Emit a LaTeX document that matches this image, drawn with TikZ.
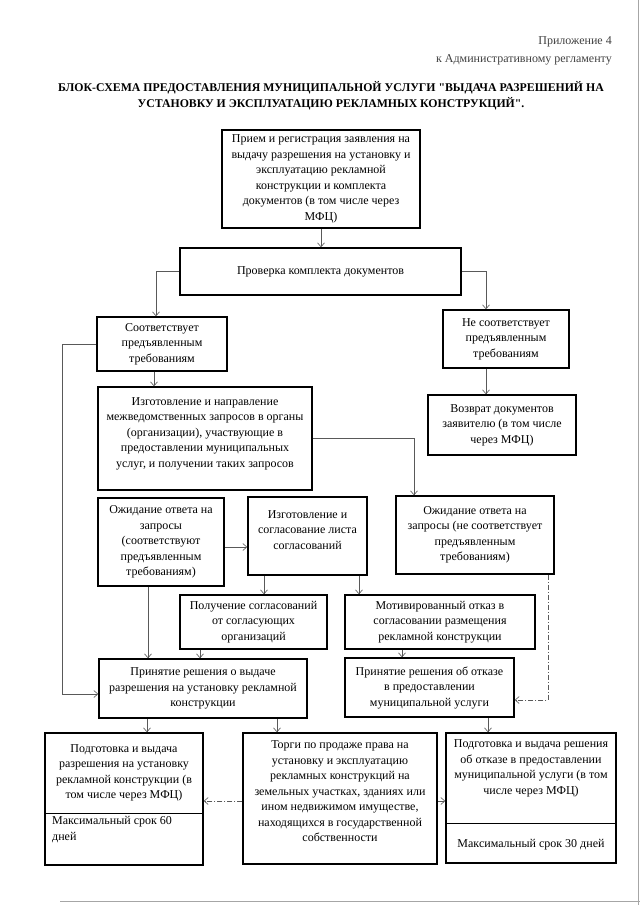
\documentclass[tikz,border=0pt]{standalone}
\usepackage{fontspec}
\setmainfont{Liberation Serif}
\newfontfamily\ttlfont{Liberation Serif}
\usetikzlibrary{arrows.meta}
\tikzset{
blk/.style={draw=black, line width=1.5pt, align=center, inner sep=2pt,
    font=\fontsize{12}{15.5}\selectfont},
txt/.style={inner sep=0pt, font=\fontsize{12}{15.5}\selectfont},
cn/.style={line width=0.6pt, draw=black!65},
arr/.style={cn, -{Straight Barb[length=4pt,width=7pt]}},
dsh/.style={arr, dash pattern=on 5pt off 2pt on 1pt off 2pt}}

\begin{document}
\begin{tikzpicture}[x=1pt,y=-1pt]
\useasboundingbox (0,0) rectangle (640,905);

% edges of the scanned page
\draw[black!35, line width=0.8pt] (638.5,0) -- (638.5,905);
\draw[black!35, line width=0.8pt] (60,901.5) -- (640,901.5);

% heading
\node[txt, anchor=east, text=black!75] (app1) at (612,42) {Приложение 4};
\node[txt, anchor=east, text=black!75] (app2) at (612,60) {к Административному регламенту};
\node[txt, align=center, font=\fontsize{11.8}{16}\selectfont\ttlfont\bfseries] (ttl) at (331,96)
    {БЛОК-СХЕМА ПРЕДОСТАВЛЕНИЯ МУНИЦИПАЛЬНОЙ УСЛУГИ "ВЫДАЧА РАЗРЕШЕНИЙ НА\\
     УСТАНОВКУ И ЭКСПЛУАТАЦИЮ РЕКЛАМНЫХ КОНСТРУКЦИЙ".};

% blocks
\node[blk, minimum width=198pt, minimum height=98pt] (b1) at (321,179)
    {Прием и регистрация заявления на\\выдачу разрешения на установку и\\эксплуатацию рекламной\\конструкции и комплекта\\документов (в том числе через\\МФЦ)};
\node[blk, minimum width=281pt, minimum height=47pt] (b2) at (320.5,271.5)
    {Проверка комплекта документов};
\node[blk, minimum width=130pt, minimum height=54pt] (b3) at (162,344)
    {Соответствует\\предъявленным\\требованиям};
\node[blk, minimum width=214pt, minimum height=103pt] (b4) at (205,438.5) {};
\node[txt, align=center] (b4t) at (205,433.5)
    {Изготовление и направление\\межведомственных запросов в органы\\(организации), участвующие в\\предоставлении муниципальных\\услуг, и получении таких запросов};
\node[blk, minimum width=126pt, minimum height=58pt] (b5) at (506,339)
    {Не соответствует\\предъявленным\\требованиям};
\node[blk, minimum width=148pt, minimum height=60pt] (b6) at (502,425)
    {Возврат документов\\заявителю (в том числе\\через МФЦ)};
\node[blk, minimum width=126pt, minimum height=88pt] (b7) at (161,542)
    {Ожидание ответа на\\запросы\\(соответствуют\\предъявленным\\требованиям)};
\node[blk, minimum width=119pt, minimum height=78pt] (b8) at (307.5,536) {};
\node[txt, align=center] (b8t) at (307.5,530)
    {Изготовление и\\согласование листа\\согласований};
\node[blk, minimum width=158pt, minimum height=78pt] (b9) at (475,535)
    {Ожидание ответа на\\запросы (не соответствует\\предъявленным\\требованиям)};
\node[blk, minimum width=147pt, minimum height=54pt] (b10) at (253.5,622)
    {Получение согласований\\от согласующих\\организаций};
\node[blk, minimum width=190pt, minimum height=54pt] (b11) at (440,622)
    {Мотивированный отказ в\\согласовании размещения\\рекламной конструкции};
\node[blk, minimum width=169pt, minimum height=59pt] (b12) at (429.5,687.5)
    {Принятие решения об отказе\\в предоставлении\\муниципальной услуги};
\node[blk, minimum width=208pt, minimum height=59pt] (b13) at (203,688.5)
    {Принятие решения о выдаче\\разрешения на установку рекламной\\конструкции};
\node[blk, minimum width=158pt, minimum height=132pt] (b14) at (124,799) {};
\node[txt, align=center] (b14t) at (124,773)
    {Подготовка и выдача\\разрешения на установку\\рекламной конструкции (в\\том числе через МФЦ)};
\node[txt, align=left, anchor=west] (b14s) at (52,829.5) {Максимальный срок 60\\дней};
\node[blk, minimum width=194pt, minimum height=131pt] (b15) at (340,798.5) {};
\node[txt, align=center] (b15t) at (340,791.5)
    {Торги по продаже права на\\установку и эксплуатацию\\рекламных конструкций на\\земельных участках, зданиях или\\ином недвижимом имуществе,\\находящихся в государственной\\собственности};
\node[blk, minimum width=170pt, minimum height=130pt] (b16) at (531,798) {};
\node[txt, align=center] (b16t) at (531,768.5)
    {Подготовка и выдача решения\\об отказе в предоставлении\\муниципальной услуги (в том\\числе через МФЦ)};
\node[txt] (b16s) at (531,845) {Максимальный срок 30 дней};

% dividers in the last two blocks
\coordinate (d14) at (124,813);
\coordinate (d16) at (531,823);
\draw[line width=0.8pt] (b14.west |- d14) -- (b14.east |- d14);
\draw[line width=0.8pt] (b16.west |- d16) -- (b16.east |- d16);

% connectors
\draw[arr] (b1.south) -- (b1.south |- b2.north);
\draw[arr] (b2.west) -| ([xshift=-6pt]b3.north);
\draw[arr] (b2.east) -| ([xshift=-20pt]b5.north);
\draw[arr] (b3.west) -- ++(-34,0) |- ([yshift=-5.5pt]b13.west);
\draw[arr] ([xshift=-8pt]b3.south) -- ([xshift=-8pt]b3.south |- b4.north);
\draw[arr] (b4.east) -| ([xshift=-61pt]b9.north);
\draw[arr] ([xshift=-20pt]b5.south) -- ([xshift=-20pt]b5.south |- b6.north);
\draw[arr] ([yshift=-5pt]b7.east) -- ([yshift=-5pt]b7.east -| b8.west);
\draw[arr] ([xshift=-13pt]b7.south) -- ([xshift=-13pt]b7.south |- b13.north);
\draw[arr] ([xshift=-43.5pt]b8.south) -- ([xshift=-43.5pt]b8.south |- b10.north);
\draw[arr] ([xshift=51.5pt]b8.south) -- ([xshift=51.5pt]b8.south |- b11.north);
\draw[arr] ([xshift=-53.5pt]b10.south) -- ([xshift=-53.5pt]b10.south |- b13.north);
\draw[arr] ([xshift=-38pt]b11.south) -- ([xshift=-38pt]b11.south |- b12.north);
\draw[dsh] ([xshift=73pt]b9.south) |- ([yshift=-12.5pt]b12.east);
\draw[arr] ([xshift=-56pt]b13.south) -- ([xshift=-56pt]b13.south |- b14.north);
\draw[arr] ([xshift=74pt]b13.south) -- ([xshift=74pt]b13.south |- b15.north);
\draw[arr] ([xshift=58.5pt]b12.south) -- ([xshift=58.5pt]b12.south |- b16.north);
\draw[dsh] ([yshift=-2.5pt]b15.west) -- ([yshift=-2.5pt]b15.west -| b14.east);
\draw[arr] ([yshift=-2.5pt]b15.east) -- ([yshift=-2.5pt]b15.east -| b16.west);

\end{tikzpicture}
\end{document}
